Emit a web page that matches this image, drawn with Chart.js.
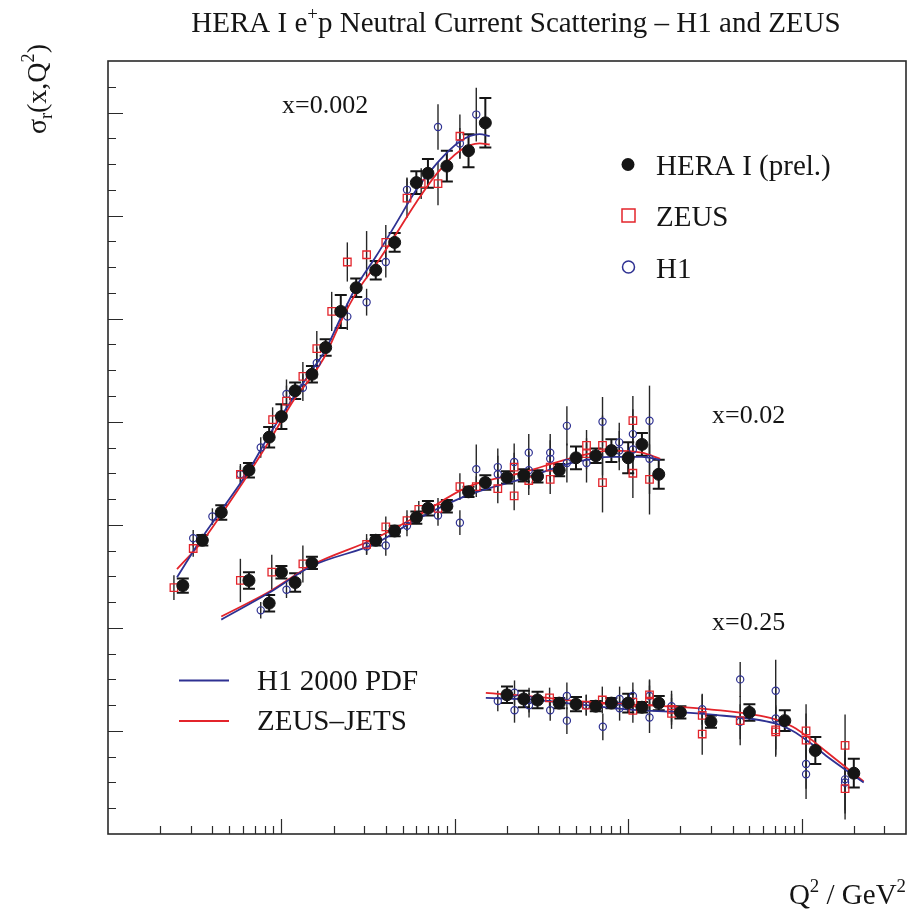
<!DOCTYPE html>
<html>
<head>
<meta charset="utf-8">
<script src="https://cdn.jsdelivr.net/npm/chart.js"></script>
<style>
html, body { margin: 0; padding: 0; background: #fff; }
canvas { display: block; }
</style>
</head>
<body>
<canvas id="chart" width="913" height="917" style="width:913px;height:917px"></canvas>
<script>
// y values are in the (unlabelled) plot units, one major tick = 1

// ---- x = 0.002 ----
const q2Hera002 = [2.7, 3.5, 4.5, 6.5, 8.5, 10, 12, 15, 18, 22, 27, 35, 45, 60, 70, 90, 120, 150];
const sigHera002 = [2.41, 2.85, 3.12, 3.53, 3.85, 4.05, 4.30, 4.46, 4.72, 5.07, 5.30, 5.47, 5.74, 6.32, 6.41, 6.48, 6.63, 6.90];
const errHera002 = [0.07, 0.05, 0.07, 0.07, 0.10, 0.12, 0.08, 0.08, 0.08, 0.16, 0.09, 0.09, 0.09, 0.11, 0.14, 0.15, 0.16, 0.24];

const q2Zeus002 = [2.4, 3.1, 5.8, 8.9, 10.7, 13.3, 16, 19.5, 24, 31, 40, 53, 64, 80, 107];
const sigZeus002 = [2.39, 2.77, 3.49, 4.02, 4.20, 4.44, 4.71, 5.07, 5.55, 5.62, 5.74, 6.17, 6.31, 6.31, 6.77];
const errZeus002 = [0.12, 0.08, 0.10, 0.12, 0.15, 0.14, 0.17, 0.19, 0.19, 0.23, 0.17, 0.19, 0.15, 0.21, 0.21];

const q2H1002 = [3.1, 4.0, 5.8, 7.6, 10.7, 13.3, 16, 24, 31, 40, 53, 80, 107, 133];
const sigH1002 = [2.87, 3.08, 3.49, 3.75, 4.27, 4.33, 4.57, 5.02, 5.16, 5.55, 6.25, 6.86, 6.70, 6.98];
const errH1002 = [0.08, 0.08, 0.08, 0.10, 0.14, 0.13, 0.15, 0.13, 0.13, 0.15, 0.12, 0.22, 0.15, 0.26];

const q2Fit002 = [2.5, 3.5, 4.5, 6.5, 8.5, 12, 15, 18, 22, 27, 35, 45, 60, 79, 107, 139, 159];
const fitH1002 = [2.49, 2.88, 3.14, 3.53, 3.87, 4.26, 4.50, 4.70, 5.01, 5.31, 5.60, 5.90, 6.25, 6.51, 6.72, 6.79, 6.77];
const fitZeus002 = [2.57, 2.84, 3.10, 3.50, 3.81, 4.23, 4.44, 4.65, 4.97, 5.25, 5.52, 5.80, 6.13, 6.41, 6.63, 6.70, 6.69];

// ---- x = 0.02 ----
const q2Hera02 = [6.5, 8.5, 10, 12, 15, 35, 45, 60, 70, 90, 120, 150, 200, 250, 300, 400, 500, 650, 800, 1000, 1200, 1500];
const sigHera02 = [2.46, 2.24, 2.54, 2.44, 2.63, 2.85, 2.94, 3.07, 3.16, 3.18, 3.32, 3.41, 3.46, 3.48, 3.47, 3.53, 3.65, 3.67, 3.72, 3.65, 3.78, 3.49];
const errHera02 = [0.08, 0.08, 0.06, 0.09, 0.06, 0.05, 0.05, 0.06, 0.07, 0.06, 0.05, 0.07, 0.06, 0.06, 0.06, 0.06, 0.11, 0.07, 0.11, 0.15, 0.11, 0.14];

const q2Zeus02 = [5.8, 8.8, 13.3, 31, 40, 53, 62, 80, 107, 133, 177, 220, 220, 267, 355, 355, 575, 575, 711, 711, 1064, 1064, 1327];
const sigZeus02 = [2.46, 2.54, 2.62, 2.81, 2.98, 3.04, 3.15, 3.16, 3.37, 3.37, 3.35, 3.56, 3.28, 3.43, 3.56, 3.44, 3.77, 3.69, 3.77, 3.41, 4.01, 3.50, 3.44];
const errZeus02 = [0.21, 0.17, 0.18, 0.10, 0.10, 0.10, 0.08, 0.10, 0.13, 0.10, 0.14, 0.14, 0.14, 0.14, 0.14, 0.14, 0.15, 0.15, 0.29, 0.29, 0.24, 0.24, 0.34];

const q2H102 = [7.6, 10.7, 31, 40, 53, 80, 107, 133, 177, 177, 220, 267, 267, 355, 355, 443, 443, 575, 711, 888, 888, 1064, 1064, 1327, 1327];
const sigH102 = [2.17, 2.37, 2.79, 2.80, 2.99, 3.09, 3.02, 3.54, 3.56, 3.49, 3.61, 3.70, 3.53, 3.70, 3.64, 3.96, 3.60, 3.60, 4.00, 3.80, 3.72, 3.88, 3.73, 4.01, 3.64];
const errH102 = [0.08, 0.08, 0.08, 0.10, 0.10, 0.10, 0.12, 0.24, 0.18, 0.18, 0.18, 0.18, 0.18, 0.18, 0.18, 0.19, 0.19, 0.19, 0.24, 0.19, 0.19, 0.24, 0.24, 0.34, 0.34];

const q2Fit02 = [4.5, 8.5, 15, 35, 60, 120, 250, 500, 800, 1200, 1530];
const fitH102 = [2.08, 2.34, 2.60, 2.82, 3.05, 3.29, 3.45, 3.61, 3.66, 3.66, 3.63];
const fitZeus02 = [2.11, 2.35, 2.61, 2.87, 3.08, 3.37, 3.51, 3.66, 3.72, 3.70, 3.64];

// ---- x = 0.25 ----
const q2Hera25 = [200, 250, 300, 400, 500, 650, 800, 1000, 1200, 1500, 2000, 3000, 5000, 8000, 12000, 20000];
const sigHera25 = [1.35, 1.31, 1.30, 1.27, 1.26, 1.24, 1.27, 1.27, 1.23, 1.27, 1.18, 1.09, 1.18, 1.10, 0.81, 0.59];
const errHera25 = [0.08, 0.08, 0.08, 0.05, 0.07, 0.05, 0.05, 0.09, 0.05, 0.07, 0.06, 0.06, 0.08, 0.10, 0.13, 0.14];

const q2Zeus25 = [352, 573, 709, 1064, 1064, 1327, 1327, 1778, 1778, 2672, 2672, 4424, 7090, 7090, 10610, 10610, 17810, 17810];
const sigZeus25 = [1.32, 1.25, 1.30, 1.28, 1.20, 1.35, 1.29, 1.21, 1.17, 1.15, 0.97, 1.10, 1.01, 0.99, 1.00, 0.91, 0.86, 0.44];
const errZeus25 = [0.10, 0.10, 0.13, 0.12, 0.12, 0.15, 0.15, 0.15, 0.15, 0.20, 0.20, 0.24, 0.24, 0.24, 0.26, 0.26, 0.30, 0.30];

const q2H125 = [177, 221, 221, 268, 268, 355, 443, 443, 573, 714, 892, 892, 1064, 1327, 1327, 1778, 2672, 4424, 4424, 7090, 7090, 10610, 10610, 17810, 17810];
const sigH125 = [1.29, 1.37, 1.20, 1.30, 1.25, 1.20, 1.34, 1.10, 1.25, 1.04, 1.31, 1.22, 1.34, 1.34, 1.13, 1.24, 1.21, 1.50, 1.09, 1.39, 1.12, 0.68, 0.58, 0.53, 0.50];
const errH125 = [0.10, 0.12, 0.12, 0.12, 0.12, 0.10, 0.13, 0.13, 0.10, 0.13, 0.12, 0.12, 0.13, 0.15, 0.15, 0.15, 0.15, 0.17, 0.17, 0.30, 0.30, 0.24, 0.24, 0.30, 0.30];

const q2Fit25 = [151, 300, 500, 974, 2943, 7129, 8890, 11090, 13840, 22800];
const fitH125 = [1.32, 1.30, 1.26, 1.21, 1.16, 1.07, 1.00, 0.89, 0.76, 0.50];
const fitZeus25 = [1.37, 1.33, 1.29, 1.26, 1.21, 1.11, 1.04, 0.93, 0.80, 0.51];

const xMajorTicks = [10, 100, 1000, 10000];
const groupLabels = ['x=0.002', 'x=0.02', 'x=0.25'];

const serif = '"Liberation Serif", "DejaVu Serif", serif';
const black = '#151515';
const zeusRed = '#e3242b';
const h1Blue = '#2e3192';

function pts(xs, ys) {
    return xs.map((x, i) => ({ x: x, y: ys[i] }));
}

function hera(xs, ys, es) {
    return {
        data: pts(xs, ys), errors: es, errColor: black, errWidth: 2, errCap: 6,
        pointStyle: 'circle', pointRadius: 6, backgroundColor: black, borderColor: black,
        borderWidth: 1, showLine: false, order: 0
    };
}

function zeus(xs, ys, es) {
    return {
        data: pts(xs, ys), errors: es, errColor: '#262626', errWidth: 1.4, errCap: 0,
        pointStyle: 'rect', pointRadius: 5.3, backgroundColor: 'rgba(255,255,255,0)', borderColor: zeusRed,
        borderWidth: 1.3, showLine: false, order: 1
    };
}

function h1(xs, ys, es) {
    return {
        data: pts(xs, ys), errors: es, errColor: '#262626', errWidth: 1.4, errCap: 0,
        pointStyle: 'circle', pointRadius: 3.6, backgroundColor: 'rgba(255,255,255,0)', borderColor: h1Blue,
        borderWidth: 1.2, showLine: false, order: 2
    };
}

function curve(xs, ys, color) {
    return {
        data: pts(xs, ys), showLine: true, pointRadius: 0, borderColor: color, borderWidth: 1.8,
        cubicInterpolationMode: 'monotone', fill: false, order: 3
    };
}

// draws a string made of normal / superscript (1) / subscript (-1) pieces
function richText(ctx, parts, x, y, size, align) {
    let w = 0;
    const segs = parts.map(([t, m]) => {
        const s = m ? size * 0.65 : size;
        ctx.font = s + 'px ' + serif;
        const sw = ctx.measureText(t).width;
        w += sw;
        return { t, m, s, sw };
    });
    let cx = align === 'right' ? x - w : align === 'center' ? x - w / 2 : x;
    ctx.textAlign = 'left';
    ctx.textBaseline = 'alphabetic';
    segs.forEach(g => {
        ctx.font = g.s + 'px ' + serif;
        const dy = g.m === 1 ? -size * 0.42 : g.m === -1 ? size * 0.22 : 0;
        ctx.fillText(g.t, cx, y + dy);
        cx += g.sw;
    });
}

const decor = {
    id: 'decor',
    beforeDatasetsDraw(chart) {
        const ctx = chart.ctx;
        const ys = chart.scales.y;
        chart.data.datasets.forEach((ds, i) => {
            if (!ds.errors) return;
            const meta = chart.getDatasetMeta(i);
            ctx.save();
            ctx.strokeStyle = ds.errColor;
            ctx.lineWidth = ds.errWidth;
            meta.data.forEach((el, j) => {
                const v = ds.data[j].y, e = ds.errors[j];
                const top = ys.getPixelForValue(v + e);
                const bot = ys.getPixelForValue(v - e);
                ctx.beginPath();
                ctx.moveTo(el.x, top);
                ctx.lineTo(el.x, bot);
                if (ds.errCap) {
                    ctx.moveTo(el.x - ds.errCap, top);
                    ctx.lineTo(el.x + ds.errCap, top);
                    ctx.moveTo(el.x - ds.errCap, bot);
                    ctx.lineTo(el.x + ds.errCap, bot);
                }
                ctx.stroke();
            });
            ctx.restore();
        });
    },
    afterDraw(chart) {
        const ctx = chart.ctx;
        const a = chart.chartArea;
        const xs = chart.scales.x, ys = chart.scales.y;
        ctx.save();

        // frame
        ctx.strokeStyle = '#2a2a2a';
        ctx.lineWidth = 1.6;
        ctx.strokeRect(a.left, a.top, a.right - a.left, a.bottom - a.top);

        // x ticks (inside, from the bottom)
        ctx.lineWidth = 1.2;
        ctx.beginPath();
        for (let d = 1; d <= 10000; d *= 10) {
            for (let k = 1; k < 10; k++) {
                const v = d * k;
                if (v <= 1 || v >= 40000) continue;
                const px = Math.round(xs.getPixelForValue(v)) + 0.5;
                const len = xMajorTicks.includes(v) ? 15 : 8;
                ctx.moveTo(px, a.bottom);
                ctx.lineTo(px, a.bottom - len);
            }
        }
        // y ticks (inside, from the left)
        for (let v = 0.25; v < 7.5; v += 0.25) {
            const py = Math.round(ys.getPixelForValue(v)) + 0.5;
            const len = Math.abs(v - Math.round(v)) < 1e-6 ? 15 : 8;
            ctx.moveTo(a.left, py);
            ctx.lineTo(a.left + len, py);
        }
        ctx.stroke();

        // titles
        ctx.fillStyle = black;
        richText(ctx, [['HERA I e', 0], ['+', 1], ['p Neutral Current Scattering \u2013 H1 and ZEUS', 0]], 516, 32, 29, 'center');
        richText(ctx, [['Q', 0], ['2', 1], [' / GeV', 0], ['2', 1]], 906, 904, 29, 'right');
        ctx.save();
        ctx.translate(46, 44);
        ctx.rotate(-Math.PI / 2);
        richText(ctx, [['\u03c3', 0], ['r', -1], ['(x,Q', 0], ['2', 1], [')', 0]], 0, 0, 28, 'right');
        ctx.restore();

        // group labels
        richText(ctx, [[groupLabels[0], 0]], 282, 113, 26, 'left');
        richText(ctx, [[groupLabels[1], 0]], 712, 423, 26, 'left');
        richText(ctx, [[groupLabels[2], 0]], 712, 630, 26, 'left');

        // marker legend
        ctx.fillStyle = black;
        ctx.beginPath();
        ctx.arc(628, 164.5, 6.5, 0, Math.PI * 2);
        ctx.fill();
        ctx.strokeStyle = zeusRed;
        ctx.lineWidth = 1.5;
        ctx.strokeRect(622, 209, 13, 13);
        ctx.strokeStyle = h1Blue;
        ctx.beginPath();
        ctx.arc(628.5, 267, 6, 0, Math.PI * 2);
        ctx.stroke();
        ctx.fillStyle = black;
        richText(ctx, [['HERA I (prel.)', 0]], 656, 175, 29, 'left');
        richText(ctx, [['ZEUS', 0]], 656, 226, 29, 'left');
        richText(ctx, [['H1', 0]], 656, 278, 29, 'left');

        // line legend
        ctx.lineWidth = 2;
        ctx.strokeStyle = h1Blue;
        ctx.beginPath(); ctx.moveTo(179, 680.5); ctx.lineTo(229, 680.5); ctx.stroke();
        ctx.strokeStyle = zeusRed;
        ctx.beginPath(); ctx.moveTo(179, 721); ctx.lineTo(229, 721); ctx.stroke();
        richText(ctx, [['H1 2000 PDF', 0]], 257, 689.5, 29, 'left');
        richText(ctx, [['ZEUS\u2013JETS', 0]], 257, 730, 29, 'left');

        ctx.restore();
    }
};

new Chart(document.getElementById('chart').getContext('2d'), {
    type: 'scatter',
    data: {
        datasets: [
            curve(q2Fit002, fitH1002, h1Blue),
            curve(q2Fit002, fitZeus002, zeusRed),
            curve(q2Fit02, fitH102, h1Blue),
            curve(q2Fit02, fitZeus02, zeusRed),
            curve(q2Fit25, fitH125, h1Blue),
            curve(q2Fit25, fitZeus25, zeusRed),
            h1(q2H1002, sigH1002, errH1002),
            h1(q2H102, sigH102, errH102),
            h1(q2H125, sigH125, errH125),
            zeus(q2Zeus002, sigZeus002, errZeus002),
            zeus(q2Zeus02, sigZeus02, errZeus02),
            zeus(q2Zeus25, sigZeus25, errZeus25),
            hera(q2Hera002, sigHera002, errHera002),
            hera(q2Hera02, sigHera02, errHera02),
            hera(q2Hera25, sigHera25, errHera25)
        ]
    },
    options: {
        responsive: false,
        animation: false,
        events: [],
        layout: { padding: { left: 108, right: 6, top: 61, bottom: 83 } },
        plugins: {
            legend: { display: false },
            title: { display: false },
            tooltip: { enabled: false }
        },
        scales: {
            x: { type: 'logarithmic', min: 1, max: 40000, display: false },
            y: { type: 'linear', min: 0, max: 7.5, display: false }
        }
    },
    plugins: [decor]
});
</script>
</body>
</html>
